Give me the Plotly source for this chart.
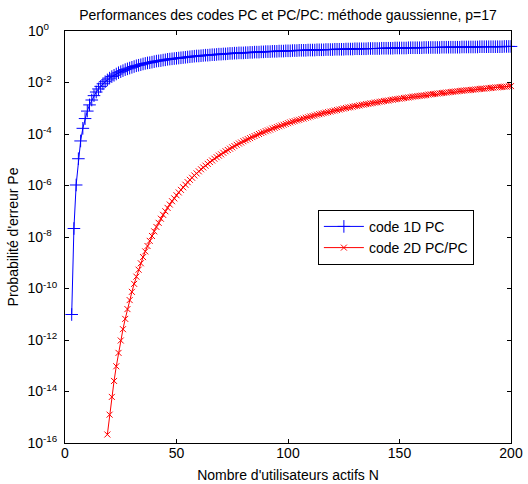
import plotly.graph_objects as go
import numpy as np

# Nombre d'utilisateurs actifs N
n_1d = list(range(3, 201))
n_2d = list(range(19, 201))

# log10(Pe), code 1D PC (N = 3..200)
pe_1d_log = [
    -11.01, -7.67, -5.98, -4.96, -4.27, -3.78, -3.40, -3.11, -2.87, -2.68,
    -2.51, -2.37, -2.25, -2.15, -2.05, -1.97, -1.90, -1.83, -1.77, -1.72,
    -1.67, -1.62, -1.58, -1.54, -1.50, -1.47, -1.44, -1.41, -1.38, -1.35,
    -1.33, -1.31, -1.28, -1.26, -1.24, -1.23, -1.21, -1.19, -1.17, -1.16,
    -1.15, -1.13, -1.12, -1.10, -1.09, -1.08, -1.07, -1.06, -1.05, -1.04,
    -1.03, -1.02, -1.01, -1.00, -0.99, -0.98, -0.97, -0.97, -0.96, -0.95,
    -0.94, -0.94, -0.93, -0.92, -0.92, -0.91, -0.90, -0.90, -0.89, -0.89,
    -0.88, -0.87, -0.87, -0.86, -0.86, -0.85, -0.85, -0.85, -0.84, -0.84,
    -0.83, -0.83, -0.82, -0.82, -0.82, -0.81, -0.81, -0.80, -0.80, -0.80,
    -0.79, -0.79, -0.79, -0.78, -0.78, -0.78, -0.77, -0.77, -0.77, -0.76,
    -0.76, -0.76, -0.75, -0.75, -0.75, -0.75, -0.74, -0.74, -0.74, -0.74,
    -0.73, -0.73, -0.73, -0.73, -0.72, -0.72, -0.72, -0.72, -0.71, -0.71,
    -0.71, -0.71, -0.71, -0.70, -0.70, -0.70, -0.70, -0.69, -0.69, -0.69,
    -0.69, -0.69, -0.69, -0.68, -0.68, -0.68, -0.68, -0.68, -0.68, -0.67,
    -0.67, -0.67, -0.67, -0.67, -0.67, -0.66, -0.66, -0.66, -0.66, -0.66,
    -0.66, -0.65, -0.65, -0.65, -0.65, -0.65, -0.65, -0.65, -0.64, -0.64,
    -0.64, -0.64, -0.64, -0.64, -0.64, -0.64, -0.63, -0.63, -0.63, -0.63,
    -0.63, -0.63, -0.63, -0.63, -0.63, -0.62, -0.62, -0.62, -0.62, -0.62,
    -0.62, -0.62, -0.62, -0.61, -0.61, -0.61, -0.61, -0.61, -0.61, -0.61,
    -0.61, -0.61, -0.61, -0.61, -0.60, -0.60, -0.60, -0.60,
]

# log10(Pe), code 2D PC/PC (N = 19..200)
pe_2d_log = [
    -15.67, -14.90, -14.21, -13.59, -13.02, -12.50, -12.02, -11.58, -11.18, -10.80,
    -10.45, -10.13, -9.82, -9.54, -9.27, -9.02, -8.78, -8.56, -8.35, -8.15,
    -7.96, -7.78, -7.61, -7.45, -7.29, -7.14, -7.00, -6.87, -6.74, -6.61,
    -6.50, -6.38, -6.27, -6.17, -6.07, -5.97, -5.87, -5.78, -5.70, -5.61,
    -5.53, -5.45, -5.37, -5.30, -5.23, -5.16, -5.09, -5.03, -4.96, -4.90,
    -4.84, -4.79, -4.73, -4.67, -4.62, -4.57, -4.52, -4.47, -4.42, -4.37,
    -4.33, -4.28, -4.24, -4.20, -4.16, -4.12, -4.08, -4.04, -4.00, -3.96,
    -3.93, -3.89, -3.86, -3.83, -3.79, -3.76, -3.73, -3.70, -3.67, -3.64,
    -3.61, -3.58, -3.55, -3.52, -3.50, -3.47, -3.45, -3.42, -3.40, -3.37,
    -3.35, -3.32, -3.30, -3.28, -3.25, -3.23, -3.21, -3.19, -3.17, -3.15,
    -3.13, -3.11, -3.09, -3.07, -3.05, -3.03, -3.01, -2.99, -2.97, -2.96,
    -2.94, -2.92, -2.91, -2.89, -2.87, -2.86, -2.84, -2.83, -2.81, -2.80,
    -2.78, -2.77, -2.75, -2.74, -2.72, -2.71, -2.70, -2.68, -2.67, -2.65,
    -2.64, -2.63, -2.62, -2.60, -2.59, -2.58, -2.57, -2.55, -2.54, -2.53,
    -2.52, -2.51, -2.50, -2.49, -2.47, -2.46, -2.45, -2.44, -2.43, -2.42,
    -2.41, -2.40, -2.39, -2.38, -2.37, -2.36, -2.35, -2.34, -2.33, -2.32,
    -2.31, -2.30, -2.30, -2.29, -2.28, -2.27, -2.26, -2.25, -2.24, -2.24,
    -2.23, -2.22, -2.21, -2.20, -2.19, -2.19, -2.18, -2.17, -2.16, -2.16,
    -2.15, -2.14,
]

assert len(n_1d) == len(pe_1d_log)
assert len(n_2d) == len(pe_2d_log)

# MATLAB keeps the "10" bases lined up; pad short exponents so they line up here too
nb = "\u00a0"
y_ticks = [1e-16, 1e-14, 1e-12, 1e-10, 1e-8, 1e-6, 1e-4, 1e-2, 1]
y_ticktext = ["10<sup>-16</sup>", "10<sup>-14</sup>", "10<sup>-12</sup>", "10<sup>-10</sup>",
              "10<sup>-8" + nb * 2 + "</sup>", "10<sup>-6" + nb * 2 + "</sup>",
              "10<sup>-4" + nb * 2 + "</sup>", "10<sup>-2" + nb * 2 + "</sup>",
              "10<sup>0" + nb * 3 + "</sup>"]

fig = go.Figure()
fig.add_trace(go.Scatter(
    x=n_1d, y=np.power(10.0, pe_1d_log), name="code 1D PC",
    mode="lines+markers",
    line=dict(color="#0000ff", width=1),
    marker=dict(symbol="cross-thin-open", size=9, line=dict(color="#0000ff", width=1)),
    cliponaxis=False,
))
fig.add_trace(go.Scatter(
    x=n_2d, y=np.power(10.0, pe_2d_log), name="code 2D PC/PC",
    mode="lines+markers",
    line=dict(color="#ff0000", width=1),
    marker=dict(symbol="x-thin-open", size=6, line=dict(color="#ff0000", width=1)),
    cliponaxis=False,
))

axis_font = dict(family="Liberation Sans, Arial, sans-serif", size=14, color="black")

fig.update_layout(
    width=528, height=484,
    margin=dict(l=65, r=17, t=31, b=41, autoexpand=False),
    paper_bgcolor="white", plot_bgcolor="white",
    font=axis_font,
    title=dict(text="Performances des codes PC et PC/PC: méthode gaussienne, p=17",
               x=0.5, xref="paper", y=1 - 15 / 484, yref="container",
               yanchor="middle", font=dict(size=14, color="black")),
    xaxis=dict(
        range=[0, 200], tickvals=[0, 50, 100, 150, 200],
        ticks="inside", ticklen=4, tickcolor="black",
        showline=True, linecolor="black", linewidth=1, mirror="ticks",
        showgrid=False, zeroline=False, automargin=False, ticklabelstandoff=-3,
        ticklabeloverflow="allow",
        title=dict(text="Nombre d'utilisateurs actifs N", standoff=10, font=dict(size=14)),
    ),
    yaxis=dict(
        type="log", range=[-16, 0], tickvals=y_ticks, ticktext=y_ticktext,
        ticks="inside", ticklen=4, tickcolor="black",
        showline=True, linecolor="black", linewidth=1, mirror="ticks",
        showgrid=False, zeroline=False, ticklabelstandoff=4, automargin=False,
        ticklabeloverflow="allow",
        title=dict(text="Probabilité d'erreur Pe", standoff=5, font=dict(size=14)),
    ),
    legend=dict(
        x=0.567, y=0.566, xanchor="left", yanchor="top",
        bgcolor="white", bordercolor="black", borderwidth=1,
        font=dict(size=14), tracegroupgap=0, itemwidth=40,
    ),
)

# drop the page's default body margin so the figure fills the window
fig.write_html("out.html", config={"displayModeBar": False},
               post_script="document.body.style.margin = '0';")
